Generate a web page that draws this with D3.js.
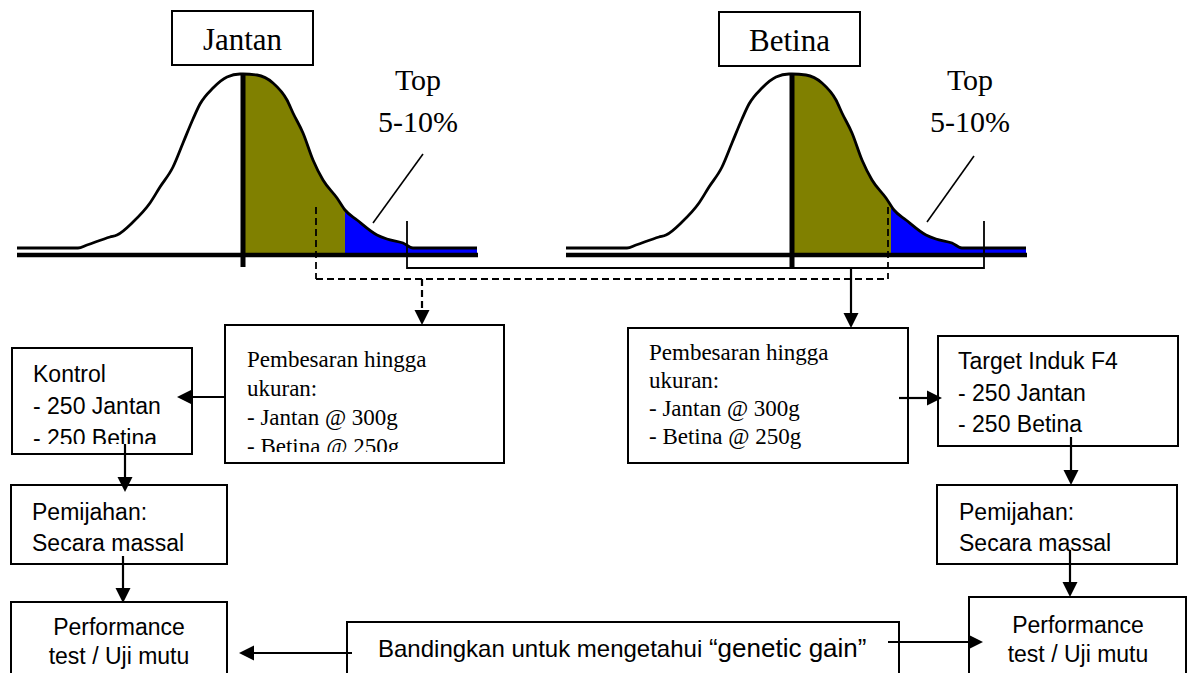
<!DOCTYPE html>
<html>
<head>
<meta charset="utf-8">
<script src="https://cdn.jsdelivr.net/npm/d3@7"></script>
<style>
  body { margin: 0; background: #fff; }
  svg { display: block; }
</style>
</head>
<body>
<svg></svg>
<script>
// shape of the distribution (offset from the mean, curve height)
const curveOffset = [-226, -165, -156, -133, -126, -110, -93, -83, -70, -60, -50, -43, -30, -16, -3, 0,
                     14, 30, 44, 50, 60, 70, 80, 94, 102, 114, 134, 144, 160, 170, 234];
const curveHeight = [0, 0, 3, 11, 13, 26, 45, 61, 81, 105, 129, 144, 160, 171, 174, 174,
                     173, 165, 148, 135, 115, 88, 68, 50, 38, 28, 13, 9, 5, 0, 0];

const panelNames = ["Jantan", "Betina"];
const topCut = [102, 99];      // start of the selected top tail (blue)
const dashCut = [73, 96];      // dashed selection marker
const topLabel = ["Top", "5-10%"];

const pembesaranLines = ["Pembesaran hingga", "ukuran:", "- Jantan @ 300g", "- Betina @ 250g"];
const kontrolLines = ["Kontrol", "- 250 Jantan", "- 250 Betina"];
const targetLines = ["Target Induk F4", "- 250 Jantan", "- 250 Betina"];
const pemijahanLines = ["Pemijahan:", "Secara massal"];
const performanceLines = ["Performance", "test / Uji mutu"];
const bandingkanText = "Bandingkan untuk mengetahui ";
const bandingkanGain = "\u201Cgenetic gain\u201D";

const width = 1190, height = 673;
const serif = "'Liberation Serif', 'Times New Roman', serif";
const sans = "'Liberation Sans', Arial, sans-serif";

const svg = d3.select("svg").attr("width", width).attr("height", height);
const defs = svg.append("defs");

const data = curveOffset.map((o, i) => ({ o: o, h: curveHeight[i] }));
const peaks = [243, 792];
const baseY = 255;
const y = d3.scaleLinear().domain([0, d3.max(curveHeight)]).range([248, 74]);

panelNames.forEach(function (name, p) {
  const px = peaks[p];
  const x = d3.scaleLinear()
    .domain(d3.extent(curveOffset))
    .range([px + d3.min(curveOffset), px + d3.max(curveOffset)]);
  const g = svg.append("g");

  const area = d3.area().x(d => x(d.o)).y0(baseY).y1(d => y(d.h)).curve(d3.curveMonotoneX);
  const line = d3.line().x(d => x(d.o)).y(d => y(d.h)).curve(d3.curveMonotoneX);

  defs.append("clipPath").attr("id", "olive" + p)
    .append("rect").attr("x", x(0)).attr("y", 0)
    .attr("width", x(topCut[p]) - x(0)).attr("height", 300);
  defs.append("clipPath").attr("id", "blue" + p)
    .append("rect").attr("x", x(topCut[p])).attr("y", 0)
    .attr("width", x(d3.max(curveOffset)) - x(topCut[p])).attr("height", 300);

  g.append("path").datum(data).attr("d", area).attr("fill", "#808000").attr("clip-path", "url(#olive" + p + ")");
  g.append("path").datum(data).attr("d", area).attr("fill", "#0000ff").attr("clip-path", "url(#blue" + p + ")");
  g.append("path").datum(data).attr("d", line).attr("fill", "none").attr("stroke", "#000").attr("stroke-width", 2.8);

  g.append("line").attr("x1", x(d3.min(curveOffset))).attr("x2", x(d3.max(curveOffset)) + 1)
    .attr("y1", baseY).attr("y2", baseY).attr("stroke", "#000").attr("stroke-width", 4.5);
  g.append("line").attr("x1", x(0)).attr("x2", x(0))
    .attr("y1", y(d3.max(curveHeight))).attr("y2", 267).attr("stroke", "#000").attr("stroke-width", 5);

  // name box
  const bx = [172, 719][p], by = [11, 12][p];
  g.append("rect").attr("x", bx).attr("y", by).attr("width", 141).attr("height", 54)
    .attr("fill", "#fff").attr("stroke", "#000").attr("stroke-width", 2);
  g.append("text").attr("x", bx + 70.5).attr("y", by + 39).attr("text-anchor", "middle")
    .style("font-family", serif).style("font-size", "31px").text(name);

  // top 5-10% label and pointer
  const lx = [418, 970][p];
  g.selectAll("text.top").data(topLabel).enter().append("text").attr("class", "top")
    .attr("x", lx).attr("y", (d, i) => 90 + i * 42).attr("text-anchor", "middle")
    .style("font-family", serif).style("font-size", "30px").text(d => d);
  g.append("line")
    .attr("x1", [423, 974][p]).attr("y1", [154, 156][p])
    .attr("x2", [373, 927][p]).attr("y2", [223, 222][p])
    .attr("stroke", "#000").attr("stroke-width", 1.6);

  // dashed selection marker
  g.append("line").attr("x1", x(dashCut[p])).attr("x2", x(dashCut[p]))
    .attr("y1", 207).attr("y2", 279)
    .attr("stroke", "#000").attr("stroke-width", 1.8).attr("stroke-dasharray", "7,4");
});

// connectors between the two distributions
svg.append("path").attr("d", "M316,279 H888")
  .attr("fill", "none").attr("stroke", "#000").attr("stroke-width", 1.8).attr("stroke-dasharray", "7,4");
svg.append("path").attr("d", "M407,221 V268 H984 V221")
  .attr("fill", "none").attr("stroke", "#000").attr("stroke-width", 1.8);

// flow boxes
const boxes = [
  { x: 225, y: 325, w: 279, h: 138, font: serif, size: 23, lines: pembesaranLines, tx: 247, ty: 367, lh: 29, clip: 452 },
  { x: 628, y: 328, w: 280, h: 135, font: serif, size: 23, lines: pembesaranLines, tx: 649, ty: 360, lh: 28 },
  { x: 12, y: 348, w: 180, h: 106, font: sans, size: 23, lines: kontrolLines, tx: 33, ty: 382, lh: 32, clip: 444 },
  { x: 938, y: 336, w: 240, h: 110, font: sans, size: 23, lines: targetLines, tx: 958, ty: 369, lh: 31.5 },
  { x: 11, y: 485, w: 216, h: 79, font: sans, size: 23, lines: pemijahanLines, tx: 32, ty: 520, lh: 31 },
  { x: 937, y: 485, w: 240, h: 79, font: sans, size: 23, lines: pemijahanLines, tx: 959, ty: 520, lh: 31 },
  { x: 11, y: 602, w: 216, h: 90, font: sans, size: 23, lines: performanceLines, tx: 119, ty: 635, lh: 29, anchor: "middle" },
  { x: 969, y: 597, w: 217, h: 95, font: sans, size: 23, lines: performanceLines, tx: 1078, ty: 633, lh: 29, anchor: "middle" },
  { x: 347, y: 622, w: 552, h: 70, font: sans, size: 24, lines: [], tx: 378, ty: 657, lh: 0 }
];

boxes.forEach(function (b, i) {
  svg.append("rect").attr("x", b.x).attr("y", b.y).attr("width", b.w).attr("height", b.h)
    .attr("fill", "#fff").attr("stroke", "#000").attr("stroke-width", 2);
  const t = svg.append("g");
  if (b.clip) {
    defs.append("clipPath").attr("id", "boxclip" + i)
      .append("rect").attr("x", b.x).attr("y", b.y).attr("width", b.w).attr("height", b.clip - b.y);
    t.attr("clip-path", "url(#boxclip" + i + ")");
  }
  t.selectAll("text").data(b.lines).enter().append("text")
    .attr("x", b.tx).attr("y", (d, k) => b.ty + k * b.lh)
    .attr("text-anchor", b.anchor || "start")
    .style("font-family", b.font).style("font-size", b.size + "px")
    .text(d => d);
});

const band = svg.append("text").attr("x", 378).attr("y", 657)
  .style("font-family", sans).style("font-size", "24px");
band.append("tspan").text(bandingkanText);
band.append("tspan").style("font-size", "26px").text(bandingkanGain);

// arrows
const arrows = [
  { x1: 422, y1: 279, x2: 422, y2: 325, dash: true },
  { x1: 851, y1: 268, x2: 851, y2: 328 },
  { x1: 225, y1: 397, x2: 177, y2: 397 },
  { x1: 899, y1: 398, x2: 942, y2: 398 },
  { x1: 125, y1: 444, x2: 125, y2: 492 },
  { x1: 1071, y1: 437, x2: 1071, y2: 485 },
  { x1: 123, y1: 556, x2: 123, y2: 603 },
  { x1: 1070, y1: 550, x2: 1070, y2: 597 },
  { x1: 352, y1: 653, x2: 239, y2: 653 },
  { x1: 888, y1: 642, x2: 983, y2: 642 }
];

arrows.forEach(function (a) {
  const len = Math.hypot(a.x2 - a.x1, a.y2 - a.y1);
  const ux = (a.x2 - a.x1) / len, uy = (a.y2 - a.y1) / len;
  const hl = 15, hw = 7.5;
  const bx = a.x2 - ux * hl, by = a.y2 - uy * hl;
  svg.append("line").attr("x1", a.x1).attr("y1", a.y1).attr("x2", bx).attr("y2", by)
    .attr("stroke", "#000").attr("stroke-width", 2.2)
    .attr("stroke-dasharray", a.dash ? "7,4" : null);
  svg.append("path")
    .attr("d", "M" + a.x2 + "," + a.y2 +
      "L" + (bx - uy * hw) + "," + (by + ux * hw) +
      "L" + (bx + uy * hw) + "," + (by - ux * hw) + "Z")
    .attr("fill", "#000");
});
</script>
</body>
</html>
